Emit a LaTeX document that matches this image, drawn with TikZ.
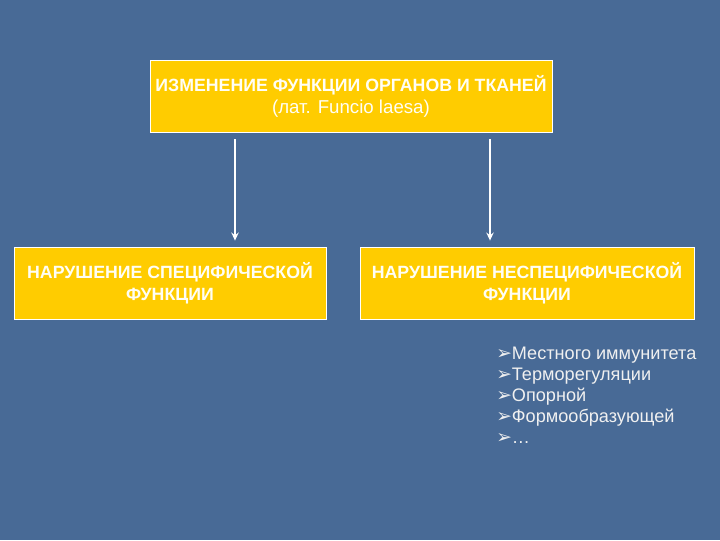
\documentclass[tikz,border=0pt]{standalone}
\usepackage{fontspec}
\setmainfont{Liberation Sans}
\newfontfamily\symfont{DejaVu Sans}
\usetikzlibrary{arrows.meta}
\definecolor{slidebg}{RGB}{72,106,150}
\definecolor{boxyellow}{RGB}{255,204,0}
\tikzset{
  fbox/.style={draw=white,line width=0.6pt,fill=boxyellow,text=white!96!yellow,
    font=\bfseries\fontsize{13.3}{16.5}\selectfont,align=center,
    minimum height=54pt,inner sep=1pt},
  arr/.style={draw=white,line width=1.4pt,-{Stealth[length=6pt,width=5.5pt]}}
}
\newcommand{\bul}{{\symfont\bfseries\fontsize{14}{12}\selectfont ➢}}
\begin{document}
\begin{tikzpicture}[x=0.75pt,y=-0.75pt]
		\fill[slidebg] (0,0) rectangle (720,540);
		\useasboundingbox (0,0) rectangle (720,540);
		\node[fbox,minimum width=301.5pt] (top) at (351,96)
			{ИЗМЕНЕНИЕ ФУНКЦИИ ОРГАНОВ И ТКАНЕЙ\\\mdseries\fontsize{14}{16}\selectfont (лат. Funcio laesa)};
		\node[fbox,minimum width=234pt] (spec) at (170,283)
			{НАРУШЕНИЕ СПЕЦИФИЧЕСКОЙ\\ФУНКЦИИ};
		\node[fbox,minimum width=250.5pt] (nonspec) at (527,283)
			{НАРУШЕНИЕ НЕСПЕЦИФИЧЕСКОЙ\\ФУНКЦИИ};
		\coordinate (ax1) at (235,0);
		\coordinate (ax2) at (490,0);
		\draw[arr,shorten <=5pt,shorten >=4.5pt] (top.south -| ax1) -- (spec.north -| ax1);
		\draw[arr,shorten <=5pt,shorten >=4.5pt] (top.south -| ax2) -- (nonspec.north -| ax2);
		\node[anchor=north west,align=left,text=white!94!black,inner sep=0pt,
			font=\fontsize{13.6}{15.75}\selectfont] (list) at (496,347)
			{\bul Местного иммунитета\\\bul Терморегуляции\\\bul Опорной\\\bul Формообразующей\\\bul\dots};
	\end{tikzpicture}
\end{document}
